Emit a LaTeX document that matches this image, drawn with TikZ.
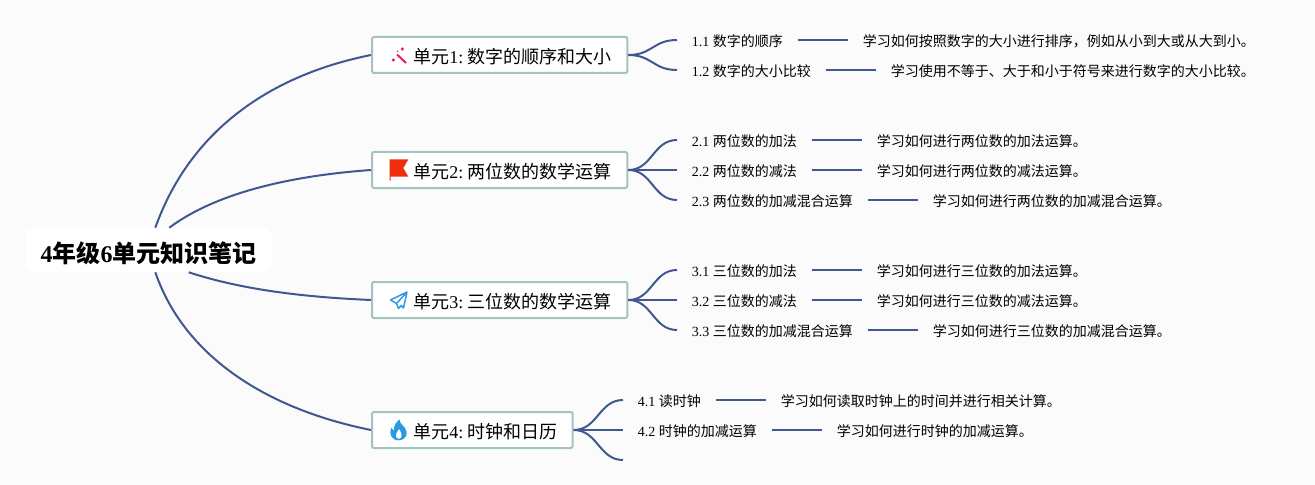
\documentclass[tikz,border=0pt]{standalone}
\usepackage{fontspec}
\setmainfont{Liberation Serif}
\newfontfamily\cjk{Noto Sans CJK SC}
\usetikzlibrary{positioning}
\definecolor{pagebg}{HTML}{FBFBFC}
\definecolor{linkblue}{HTML}{41578F}
\definecolor{boxline}{HTML}{A3C4BC}
\definecolor{wandpink}{HTML}{E91E63}
\definecolor{flagred}{HTML}{F02D0F}
\definecolor{iconblue}{HTML}{2A9BE0}
\tikzset{
  rootbox/.style={fill=white, rounded corners=7.5pt, minimum width=185pt, minimum height=33pt, inner sep=0pt, text height=18.2pt, text depth=0pt, font=\fontsize{18}{20}\selectfont\bfseries},
  unitbox/.style={draw=boxline, line width=1.5pt, fill=white, rounded corners=1.5pt, minimum height=27pt, inner xsep=0pt, inner ysep=0pt, text height=12.4pt, text depth=0pt, font=\fontsize{13.5}{16}\selectfont, anchor=west, align=left},
  leaf/.style={inner xsep=11pt, inner ysep=3pt, text height=9.5pt, text depth=0pt, font=\fontsize{10.5}{12}\selectfont, anchor=west},
  link/.style={draw=linkblue, line width=1.5pt},
}
\newcommand{\zh}[1]{{\cjk #1}}
\begin{document}
\frenchspacing
\begin{tikzpicture}[x=0.75pt, y=-0.75pt]
\fill[pagebg] (0,0) rectangle (1315,485);
\useasboundingbox (0,0) rectangle (1315,485);
% Root
\node[rootbox] (root) at (148.5,250) {4\zh{\bfseries 年级}6\zh{\bfseries 单元知识笔记}};
% Units
\node[unitbox, text width=191.5pt] (u1) at (371,55) {\hspace*{31pt}\zh{单元}1:\hspace{3pt}\zh{数字的顺序和大小}};
\node[unitbox, text width=191.5pt] (u2) at (371,170) {\hspace*{31pt}\zh{单元}2:\hspace{3pt}\zh{两位数的数学运算}};
\node[unitbox, text width=191.5pt] (u3) at (371,300) {\hspace*{31pt}\zh{单元}3:\hspace{3pt}\zh{三位数的数学运算}};
\node[unitbox, text width=150.5pt] (u4) at (371,430) {\hspace*{31pt}\zh{单元}4:\hspace{3pt}\zh{时钟和日历}};
% Unit 1 leaves
\node[leaf] (a1) at (677,40) {1.1 \zh{数字的顺序}};
\node[leaf, right=37.5pt of a1] (a1d) {\zh{学习如何按照数字的大小进行排序，例如从小到大或从大到小。}};
\node[leaf] (a2) at (677,70) {1.2 \zh{数字的大小比较}};
\node[leaf, right=37.5pt of a2] (a2d) {\zh{学习使用不等于、大于和小于符号来进行数字的大小比较。}};
% Unit 2 leaves
\node[leaf] (b1) at (677,140) {2.1 \zh{两位数的加法}};
\node[leaf, right=37.5pt of b1] (b1d) {\zh{学习如何进行两位数的加法运算。}};
\node[leaf] (b2) at (677,170) {2.2 \zh{两位数的减法}};
\node[leaf, right=37.5pt of b2] (b2d) {\zh{学习如何进行两位数的减法运算。}};
\node[leaf] (b3) at (677,200) {2.3 \zh{两位数的加减混合运算}};
\node[leaf, right=37.5pt of b3] (b3d) {\zh{学习如何进行两位数的加减混合运算。}};
% Unit 3 leaves
\node[leaf] (c1) at (677,270) {3.1 \zh{三位数的加法}};
\node[leaf, right=37.5pt of c1] (c1d) {\zh{学习如何进行三位数的加法运算。}};
\node[leaf] (c2) at (677,300) {3.2 \zh{三位数的减法}};
\node[leaf, right=37.5pt of c2] (c2d) {\zh{学习如何进行三位数的减法运算。}};
\node[leaf] (c3) at (677,330) {3.3 \zh{三位数的加减混合运算}};
\node[leaf, right=37.5pt of c3] (c3d) {\zh{学习如何进行三位数的加减混合运算。}};
% Unit 4 leaves
\node[leaf] (d1) at (623,400) {4.1 \zh{读时钟}};
\node[leaf, right=37.5pt of d1] (d1d) {\zh{学习如何读取时钟上的时间并进行相关计算。}};
\node[leaf] (d2) at (623,430) {4.2 \zh{时钟的加减运算}};
\node[leaf, right=37.5pt of d2] (d2d) {\zh{学习如何进行时钟的加减运算。}};
\coordinate (d3) at (623,460);

% Root to units
\draw[link] (root.73.5) .. controls +(35,-98) and +(-100,20) .. (u1.west);
\draw[link] (root.47) .. controls +(51,-38) and +(-70,5) .. (u2.west);
\draw[link] (root.-29) .. controls +(52,17) and +(-70,-3) .. (u3.west);
\draw[link] (root.-73.5) .. controls +(30,87) and +(-100,-20) .. (u4.west);

% Unit to leaf curves
\foreach \u/\l in {u1/a1, u1/a2, u2/b1, u2/b3, u3/c1, u3/c3, u4/d1}
  \draw[link] (\u.east) .. controls +(24,0) and +(-24,0) .. (\l.west);
\draw[link] (u2.east) -- (b2.west);
\draw[link] (u3.east) -- (c2.west);
\draw[link] (u4.east) -- (d2.west);
\draw[link] (u4.east) .. controls +(24,0) and +(-24,0) .. (d3);

% Leaf to description lines
\foreach \l in {a1, a2, b1, b2, b3, c1, c2, c3, d1, d2}
  \draw[link] (\l.east) -- (\l d.west);

% Icons
\draw[wandpink, line width=1.5pt] (397,54.5) -- (406,63);
\fill[wandpink] (402.3,49) circle (1.8) (393.3,60) circle (1.8) (397.5,51.5) circle (0.9);
\fill[flagred] (389.5,159.5) -- (408.3,159.5) -- (403.3,168) -- (408.3,176.7) -- (390.5,176.7) -- (390.5,180.5) -- (389.5,180.5) -- cycle;
\draw[iconblue, line width=1.1pt, line join=round] (407,292) -- (390.5,300) -- (396.5,303.5) -- (398.5,308.5) -- (401,305.5) -- (403.5,308) -- cycle (396.5,303.5) -- (407,292);
\fill[iconblue] (399.5,419.5) .. controls (400,424) and (403,425) .. (405,428) .. controls (408.5,433) and (407,440) .. (398.5,440.3) .. controls (391,440.3) and (388.5,433) .. (391.5,427.5) .. controls (392,429) and (393,430) .. (394,430.5) .. controls (393.5,426) and (396,422) .. (399.5,419.5) -- cycle;
\fill[white] (399,429) .. controls (402,433) and (403,438.5) .. (398.7,438.8) .. controls (395,438.5) and (395,434) .. (399,429) -- cycle;
\end{tikzpicture}
\end{document}
